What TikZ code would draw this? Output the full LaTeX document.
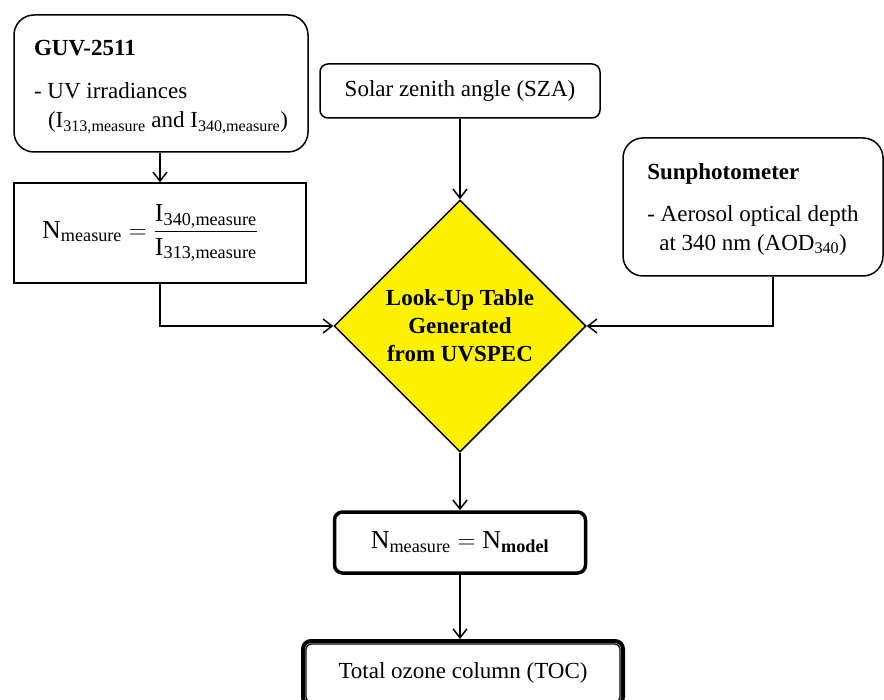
\documentclass[tikz,border=0pt]{standalone}
\usepackage{amsmath}
\usepackage{fontspec}
\setmainfont{Liberation Serif}
\usepackage{tikz}
\usetikzlibrary{shapes.geometric, arrows.meta, positioning, calc}

\begin{document}
\begin{tikzpicture}[
    x = 1pt, y = -1pt,
    font          = \fontsize{23}{29}\selectfont,
    srcbox/.style = {rectangle, rounded corners=20pt, draw, line width=1.5pt,
                     align=left, inner sep=0pt},
    calcbox/.style= {rectangle, draw, line width=1.5pt, inner sep=0pt,
                     font=\fontsize{26}{32}\selectfont},
    anglebox/.style = {rectangle, rounded corners=8pt, draw, line width=1.5pt,
                     inner sep=0pt},
    lut/.style    = {diamond, aspect=1, draw, fill=yellow, line width=1.5pt,
                     minimum width=252pt, minimum height=252pt, inner sep=0pt,
                     align=center, font=\fontsize{23}{28}\selectfont\bfseries},
    result/.style = {rectangle, rounded corners=8pt, draw, line width=3.5pt,
                     inner sep=0pt},
    arrow/.style  = {-{Straight Barb[length=9pt, width=14pt]}, line width=1.5pt},
]
\useasboundingbox (0,0) rectangle (884,700);

\node[srcbox, minimum width=294pt, minimum height=137pt] (guv) at (161,83.5)
  {\rule{0pt}{22pt}\textbf{GUV-2511}\\[14pt]
   - UV irradiances\\
   \hspace*{14pt}(I\textsubscript{313,measure} and I\textsubscript{340,measure})};

\node[calcbox, minimum width=292pt, minimum height=100pt] (ratio) at (160,233)
  {$\text{N}_{\text{measure}} = \dfrac{\text{I}_{\text{340,measure}}}{\text{I}_{\text{313,measure}}}$\hspace*{20pt}};

\node[anglebox, minimum width=280pt, minimum height=54pt] (sza) at (460,91)
  {Solar zenith angle (SZA)};

\node[srcbox, minimum width=260pt, minimum height=138pt] (sun) at (753,207)
  {\rule{0pt}{20pt}\textbf{Sunphotometer}\\[13pt]
   - Aerosol optical depth\\
   \hspace*{12pt}at 340 nm (AOD\textsubscript{340})};

\node[lut] (table) at (460,326) {Look-Up Table\\Generated\\from UVSPEC};

\node[result, font=\fontsize{26}{32}\selectfont, minimum width=251pt,
      minimum height=61pt] (match) at (460,542.5)
  {$\text{N}_{\text{measure}} = \text{N}_{\textbf{model}}$};

\node[result, line width=4pt, minimum width=320pt, minimum height=64pt] (toc) at (463,673)
  {Total ozone column (TOC)};
\draw[line width=1.2pt, rounded corners=5pt]
  ([xshift=5pt, yshift=-5pt]toc.north west) rectangle ([xshift=-5pt, yshift=5pt]toc.south east);

\draw[arrow] (guv.south -| ratio.north) -- (ratio.north);
\draw[arrow] (ratio.south) |- (table.west);
\draw[arrow] (sza) -- (table);
\draw[arrow] ([xshift=20pt]sun.south) |- (table.east);
\draw[arrow] (table) -- (match);
\draw[arrow] (match.south) -- (match.south |- toc.north);
\end{tikzpicture}
\end{document}
